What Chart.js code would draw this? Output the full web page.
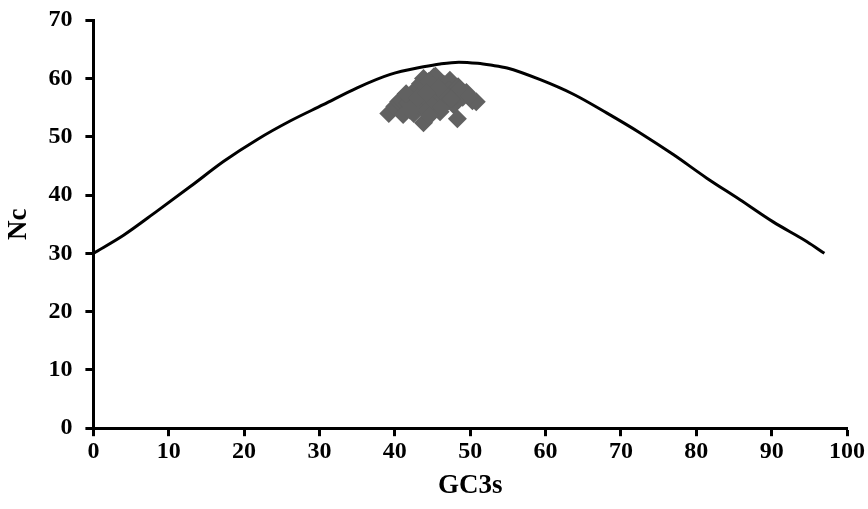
<!DOCTYPE html>
<html>
<head>
<meta charset="utf-8">
<script src="https://cdn.jsdelivr.net/npm/chart.js@4"></script>
<style>
  html, body { margin: 0; padding: 0; background: #ffffff; }
  #wrap { width: 868px; height: 509px; }
</style>
</head>
<body>
<div id="wrap"><canvas id="c" width="868" height="509"></canvas></div>
<script>
// Expected-ENC curve
const curveGC3s = [0, 4.0, 8.4, 12.9, 17.3, 21.7, 26.1, 30.5, 35.0, 39.4, 43.8, 46.0, 48.5, 51.0, 52.7, 54.9, 59.3, 63.7, 68.1, 72.5, 77.0, 81.4, 85.8, 90.2, 94.7, 97.0];
const curveNc    = [30.0, 33.1, 37.2, 41.5, 45.8, 49.5, 52.7, 55.5, 58.4, 60.7, 62.0, 62.5, 62.8, 62.6, 62.3, 61.8, 59.8, 57.3, 54.1, 50.7, 46.9, 42.9, 39.2, 35.4, 32.0, 30.0];

// Observed genes (GC3s, Nc) estimated from the cluster
const geneGC3s = [39.2, 40.0, 40.5, 40.8, 41.1, 41.8, 42.3, 42.5, 43.0, 43.2, 43.4, 43.8, 43.8, 44.0, 44.3, 44.8, 45.2, 45.4, 45.5, 45.8, 46.0, 46.5, 46.8, 47.3, 47.2, 47.8, 48.0, 48.3, 48.4, 48.6, 49.0, 49.5, 50.3, 44.6, 42.0, 46.2, 44.5, 45.0, 46.8, 47.5, 41.5, 43.0, 45.8, 44.2, 50.8, 49.8];
const geneNc    = [54.0, 55.2, 56.0, 56.3, 53.8, 55.8, 57.0, 54.0, 58.4, 55.5, 59.1, 60.0, 52.4, 56.8, 54.5, 58.0, 60.3, 60.4, 55.8, 57.4, 54.3, 59.0, 56.4, 59.7, 58.0, 55.5, 57.0, 53.1, 58.6, 58.2, 56.8, 57.6, 56.2, 53.6, 54.6, 55.0, 59.5, 58.8, 57.2, 56.5, 57.4, 56.8, 58.5, 57.5, 56.0, 57.0];

const xTicks = [0, 10, 20, 30, 40, 50, 60, 70, 80, 90, 100];
const yTicks = [0, 10, 20, 30, 40, 50, 60, 70];

const curvePts = curveGC3s.map((x, i) => ({ x: x, y: curveNc[i] }));
const genePts = geneGC3s.map((x, i) => ({ x: x, y: geneNc[i] }));

const FONT = "'Liberation Serif', 'Times New Roman', serif";

new Chart(document.getElementById('c'), {
  type: 'scatter',
  data: {
    datasets: [
      {
        label: 'Genes',
        data: genePts,
        pointStyle: 'rectRot',
        pointRadius: 9.5,
        pointHoverRadius: 9.5,
        backgroundColor: '#616161',
        borderColor: '#616161',
        borderWidth: 0,
        order: 2
      },
      {
        label: 'Expected',
        data: curvePts,
        showLine: true,
        pointRadius: 0,
        borderColor: '#000000',
        borderWidth: 3,
        cubicInterpolationMode: 'monotone',
        fill: false,
        order: 1
      }
    ]
  },
  options: {
    responsive: false,
    animation: false,
    events: [],
    layout: { padding: { left: 3, right: 0, top: 4, bottom: 7 } },
    plugins: {
      legend: { display: false },
      tooltip: { enabled: false }
    },
    scales: {
      x: {
        type: 'linear',
        min: 0,
        max: 100,
        afterBuildTicks: (s) => { s.ticks = xTicks.map(v => ({ value: v })); },
        afterFit: (s) => { s.paddingRight = 21; },
        grid: { drawOnChartArea: false, drawTicks: true, tickLength: 8, tickWidth: 3, tickColor: '#000' },
        border: { display: true, color: '#000', width: 3 },
        ticks: { color: '#000', padding: 8, font: { family: FONT, size: 24, weight: 'bold', lineHeight: 0.6 }, maxRotation: 0 },
        title: { display: true, text: 'GC3s', color: '#000', padding: { top: 3, bottom: 0 }, font: { family: FONT, size: 27, weight: 'bold' } }
      },
      y: {
        type: 'linear',
        min: 0,
        max: 70,
        afterBuildTicks: (s) => { s.ticks = yTicks.map(v => ({ value: v })); },
        grid: { drawOnChartArea: false, drawTicks: true, tickLength: 8, tickWidth: 3, tickColor: '#000' },
        border: { display: true, color: '#000', width: 3 },
        ticks: { color: '#000', padding: 13, font: { family: FONT, size: 24, weight: 'bold', lineHeight: 0.6 } },
        title: { display: true, text: 'Nc', color: '#000', padding: { top: 0, bottom: 0 }, font: { family: FONT, size: 27, weight: 'bold' } }
      }
    }
  }
});
</script>
</body>
</html>
